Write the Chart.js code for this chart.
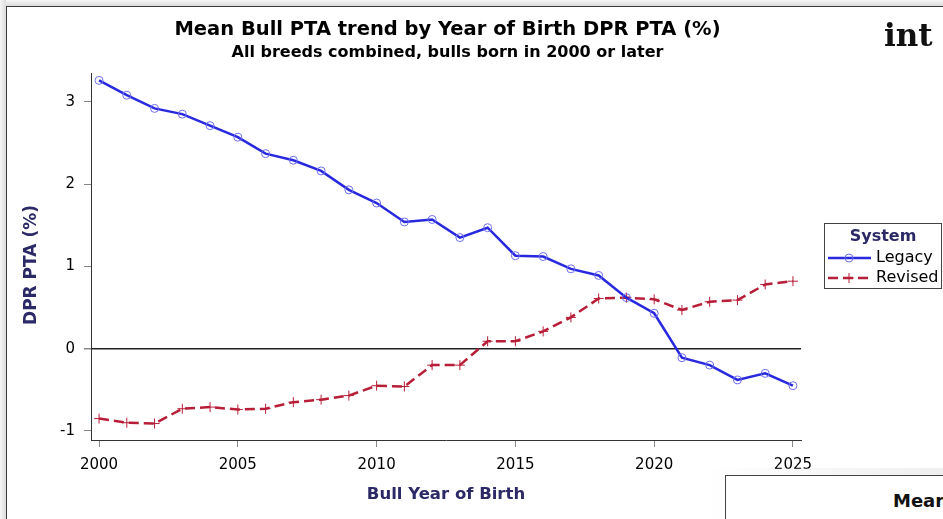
<!DOCTYPE html>
<html>
<head>
<meta charset="utf-8">
<script src="https://cdn.jsdelivr.net/npm/chart.js@4"></script>
<style>
  html, body { margin: 0; padding: 0; background: #fff; }
  #wrap { position: relative; width: 943px; height: 519px; overflow: hidden; }
  #bulls { position: absolute; left: 0; top: 0; }
  .edge-top { position: absolute; left: 0; top: 0; width: 943px; height: 6px;
    background: linear-gradient(#f6f6f6, #dcdcdc); }
  .edge-left { position: absolute; left: 0; top: 0; width: 6px; height: 519px;
    background: linear-gradient(90deg, #f6f6f6, #dcdcdc); }
  .line-top { position: absolute; left: 6px; top: 6px; width: 937px; height: 1px; background: #3a3a3a; }
  .line-left { position: absolute; left: 6px; top: 6px; width: 1px; height: 513px; background: #3a3a3a; }
  .int { position: absolute; left: 884px; top: 17px; font: bold 31px "DejaVu Serif", serif; color: #111; }
  .next-shadow { position: absolute; left: 700px; top: 468px; width: 243px; height: 51px;
    background: linear-gradient(90deg, rgba(255,255,255,0), rgba(232,232,232,0.7)); }
  .next { position: absolute; left: 725px; top: 475px; width: 230px; height: 60px;
    background: #fff; border: 1px solid #444; }
  .next span { position: absolute; left: 167px; top: 14px; font: bold 18px "DejaVu Sans", sans-serif; color: #111; }
</style>
</head>
<body>
<div id="wrap">
  <canvas id="bulls" width="943" height="519"></canvas>
  <div class="edge-top"></div>
  <div class="edge-left"></div>
  <div class="line-top"></div>
  <div class="line-left"></div>
  <div class="int">int</div>
  <div class="next-shadow"></div>
  <div class="next"><span>Mean</span></div>
</div>
<script>
'use strict'

const years = [2000, 2001, 2002, 2003, 2004, 2005, 2006, 2007, 2008, 2009, 2010, 2011, 2012,
               2013, 2014, 2015, 2016, 2017, 2018, 2019, 2020, 2021, 2022, 2023, 2024, 2025];

const legacy = [3.26, 3.08, 2.92, 2.85, 2.71, 2.57, 2.37, 2.29, 2.16, 1.93, 1.77, 1.54, 1.57,
                1.35, 1.47, 1.13, 1.12, 0.97, 0.89, 0.62, 0.43, -0.11, -0.20, -0.38, -0.30, -0.45];

const revised = [-0.85, -0.90, -0.91, -0.73, -0.71, -0.74, -0.73, -0.65, -0.62, -0.57, -0.45, -0.46, -0.20,
                 -0.20, 0.09, 0.09, 0.21, 0.38, 0.61, 0.62, 0.60, 0.47, 0.57, 0.59, 0.78, 0.82];

const xTicks = [2000, 2005, 2010, 2015, 2020, 2025];
const yTicks = [-1, 0, 1, 2, 3];

const BLUE = 'rgb(40, 40, 222)';
const BLUE_MARK = 'rgb(110, 110, 240)';
const RED = 'rgb(184, 30, 56)';
const NAVY = '#2b2966';

Chart.defaults.font.family = '"DejaVu Sans", sans-serif';
Chart.defaults.color = '#000';

function toPoints(vals) {
    return years.map((y, i) => ({ x: y, y: vals[i] }));
}

// legend + y axis title drawn by hand so they sit where SAS puts them
const systemLegend = {
    id: 'systemLegend',
    afterDraw(chart) {
        const ctx = chart.ctx;
        const x0 = 824, y0 = 223, w = 117, h = 65;
        ctx.save();

        // y axis title, centred a bit lower than the plot area like the original
        ctx.translate(32, 265);
        ctx.rotate(-Math.PI / 2);
        ctx.font = 'bold 17px "DejaVu Sans", sans-serif';
        ctx.fillStyle = NAVY;
        ctx.textAlign = 'center';
        ctx.textBaseline = 'middle';
        ctx.fillText('DPR PTA (%)', 0, 0);
        ctx.setTransform(1, 0, 0, 1, 0, 0);

        ctx.fillStyle = '#fff';
        ctx.fillRect(x0, y0, w, h);
        ctx.strokeStyle = '#444';
        ctx.lineWidth = 1;
        ctx.strokeRect(x0 + 0.5, y0 + 0.5, w, h);

        ctx.font = 'bold 16px "DejaVu Sans", sans-serif';
        ctx.fillStyle = NAVY;
        ctx.textAlign = 'center';
        ctx.fillText('System', 883, 237);

        ctx.font = '16px "DejaVu Sans", sans-serif';
        ctx.textAlign = 'left';
        chart.data.datasets.forEach((ds, i) => {
            const ly = 258 + i * 20;
            ctx.strokeStyle = ds.borderColor;
            ctx.lineWidth = 2.5;
            ctx.setLineDash(ds.borderDash || []);
            ctx.beginPath();
            ctx.moveTo(828, ly);
            ctx.lineTo(871, ly);
            ctx.stroke();
            ctx.setLineDash([]);
            ctx.strokeStyle = ds.pointBorderColor;
            ctx.lineWidth = 1;
            ctx.beginPath();
            if (ds.pointStyle === 'circle') {
                ctx.arc(849, ly, 4, 0, Math.PI * 2);
            } else {
                ctx.moveTo(844, ly); ctx.lineTo(854, ly);
                ctx.moveTo(849, ly - 5); ctx.lineTo(849, ly + 5);
            }
            ctx.stroke();
            ctx.fillStyle = '#000';
            ctx.fillText(ds.label, 876, ly);
        });
        ctx.restore();
    }
};

new Chart(document.getElementById('bulls'), {
    type: 'line',
    data: {
        datasets: [{
            label: 'Legacy',
            data: toPoints(legacy),
            borderColor: BLUE,
            borderWidth: 2.5,
            pointStyle: 'circle',
            pointRadius: 4,
            pointBorderWidth: 1,
            pointBorderColor: BLUE_MARK,
            pointBackgroundColor: 'rgba(0,0,0,0)',
            tension: 0
        }, {
            label: 'Revised',
            data: toPoints(revised),
            borderColor: RED,
            borderWidth: 2.5,
            borderDash: [10, 5],
            pointStyle: 'cross',
            pointRadius: 5,
            pointBorderWidth: 1,
            pointBorderColor: RED,
            pointBackgroundColor: RED,
            tension: 0
        }]
    },
    options: {
        responsive: false,
        animation: false,
        events: [],
        layout: { padding: { left: 6, right: 54, top: 6, bottom: 0 } },
        plugins: {
            legend: { display: false },
            tooltip: { enabled: false },
            title: {
                display: true,
                text: 'Mean Bull PTA trend by Year of Birth DPR PTA (%)',
                font: { size: 19.5, weight: 'bold' },
                color: '#000',
                padding: { top: 12, bottom: 2 }
            },
            subtitle: {
                display: true,
                text: 'All breeds combined, bulls born in 2000 or later',
                font: { size: 16, weight: 'bold' },
                color: '#000',
                padding: { top: 0, bottom: 10.4 }
            }
        },
        scales: {
            x: {
                type: 'linear',
                min: 1999.71,
                max: 2025.29,
                afterBuildTicks: scale => { scale.ticks = xTicks.map(v => ({ value: v })); },
                afterFit: scale => { scale.height = 79; },
                ticks: { font: { size: 15 }, padding: 9, callback: v => String(v), maxRotation: 0 },
                grid: { drawOnChartArea: false, tickLength: 7, tickColor: '#888' },
                border: { color: '#333', width: 1 },
                title: {
                    display: true,
                    text: 'Bull Year of Birth',
                    color: NAVY,
                    font: { size: 16.5, weight: 'bold' },
                    padding: { top: 14, bottom: 14 }
                }
            },
            y: {
                min: -1.11,
                max: 3.35,
                afterBuildTicks: scale => { scale.ticks = yTicks.map(v => ({ value: v })); },
                afterFit: scale => { scale.width = 85; },
                ticks: { font: { size: 15 }, padding: 9, callback: v => String(v) },
                grid: {
                    drawOnChartArea: true,
                    color: c => (c.tick && c.tick.value === 0) ? '#222' : 'rgba(0,0,0,0)',
                    lineWidth: c => (c.tick && c.tick.value === 0) ? 1.5 : 1,
                    tickLength: 7,
                    tickColor: '#888'
                },
                border: { color: '#333', width: 1 },
                title: { display: false }
            },
            // empty right-hand space that holds the legend, keeps the titles centred on the whole graph
            yRight: {
                axis: 'y',
                position: 'right',
                afterFit: scale => { scale.width = 88; },
                ticks: { display: false },
                grid: { display: false },
                border: { display: false }
            }
        }
    },
    plugins: [systemLegend]
});
</script>
</body>
</html>
